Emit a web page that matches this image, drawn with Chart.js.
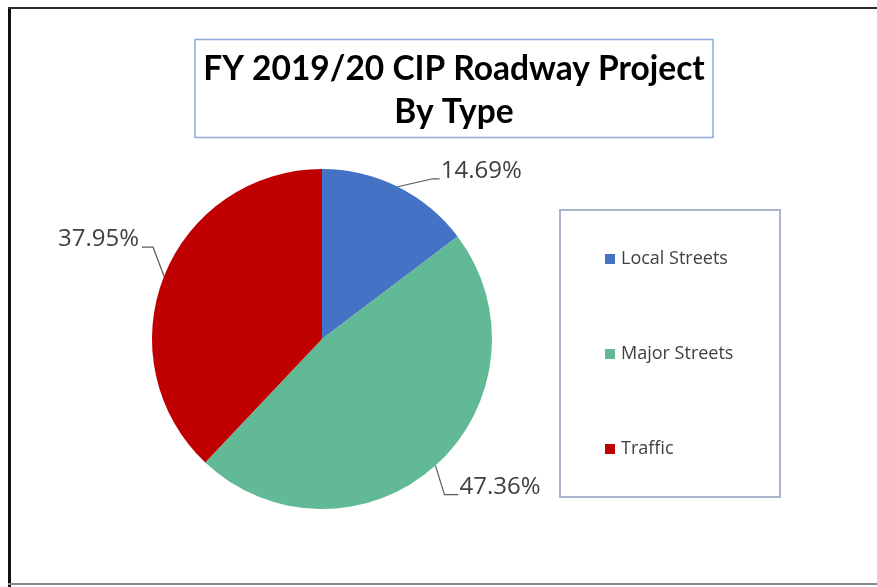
<!DOCTYPE html>
<html>
<head>
<meta charset="utf-8">
<title>FY 2019/20 CIP Roadway Project By Type</title>
<script src="https://cdn.jsdelivr.net/npm/chart.js@4/dist/chart.umd.min.js"></script>
<style>
  html, body { margin: 0; padding: 0; background: #fff; }
  canvas { display: block; }
</style>
</head>
<body>
<canvas id="pieChart" width="877" height="587"></canvas>
<script>
// chart data
const categories = ['Local Streets', 'Major Streets', 'Traffic'];
const shares = [14.69, 47.36, 37.95];
const sliceColors = ['#4472C4', '#62B996', '#C00000'];
const titleLines = ['FY 2019/20 CIP Roadway Project', 'By Type'];

// where each leader line bends, relative to the slice edge (dx, dy) and how far it runs flat
const leaderBends = [
    { dx: 35, dy: -8, run: 7 },
    { dx: 9, dy: 29, run: 14 },
    { dx: -11, dy: -29, run: -11 }
];

const LABEL_FONT = '24px "Open Sans", sans-serif';
const TEXT_COLOR = '#404040';

// draws the frame, title box, legend box and the percentage labels
const excelLook = {
    id: 'excelLook',
    beforeDraw(chart) {
        const ctx = chart.ctx;
        ctx.save();
        ctx.fillStyle = '#ffffff';
        ctx.fillRect(0, 0, chart.width, chart.height);
        ctx.restore();
    },
    afterDraw(chart) {
        const ctx = chart.ctx;
        ctx.save();

        // outer frame
        ctx.fillStyle = '#111111';
        ctx.fillRect(8, 7, 3, 580);
        ctx.fillStyle = '#2b2b2b';
        ctx.fillRect(8, 7, chart.width - 8, 2);
        ctx.fillStyle = '#8a8a8a';
        ctx.fillRect(8, 583, chart.width - 8, 2);

        // title box
        ctx.strokeStyle = '#8EA9DB';
        ctx.lineWidth = 1.5;
        ctx.strokeRect(195, 39.5, 518, 98);
        ctx.fillStyle = '#000000';
        ctx.font = 'bold 33.5px Lato, "Open Sans", sans-serif';
        ctx.textAlign = 'center';
        ctx.textBaseline = 'alphabetic';
        ctx.fillText(titleLines[0], 454, 80);
        ctx.fillText(titleLines[1], 454, 123);

        // legend box
        ctx.strokeStyle = '#A9B3C9';
        ctx.lineWidth = 2;
        ctx.strokeRect(560, 210, 220, 287);
        ctx.font = '18px "Open Sans", sans-serif';
        ctx.textAlign = 'left';
        ctx.textBaseline = 'middle';
        categories.forEach((name, i) => {
            const cy = 259 + i * 95;
            ctx.fillStyle = sliceColors[i];
            ctx.fillRect(605, cy - 5, 10, 10);
            ctx.fillStyle = TEXT_COLOR;
            ctx.fillText(name, 621, cy);
        });

        // percentage labels with leader lines
        const meta = chart.getDatasetMeta(0);
        ctx.font = LABEL_FONT;
        ctx.textBaseline = 'alphabetic';
        meta.data.forEach((arc, i) => {
            const p = arc.getProps(['x', 'y', 'startAngle', 'endAngle', 'outerRadius'], true);
            const mid = (p.startAngle + p.endAngle) / 2;
            const ex = p.x + Math.cos(mid) * p.outerRadius;
            const ey = p.y + Math.sin(mid) * p.outerRadius;
            const b = leaderBends[i];
            const bx = ex + b.dx;
            const by = ey + b.dy;
            const tx = bx + b.run;

            ctx.strokeStyle = '#595959';
            ctx.lineWidth = 1.2;
            ctx.beginPath();
            ctx.moveTo(ex, ey);
            ctx.lineTo(bx, by);
            ctx.lineTo(tx, by);
            ctx.stroke();

            const text = shares[i].toFixed(2) + '%';
            ctx.fillStyle = TEXT_COLOR;
            if (b.run < 0) {
                ctx.textAlign = 'right';
                ctx.fillText(text, tx - 3, by - 1);
            } else {
                ctx.textAlign = 'left';
                ctx.fillText(text, tx + 1, by - 1);
            }
        });

        ctx.restore();
    }
};

const chart = new Chart(document.getElementById('pieChart'), {
    type: 'pie',
    data: {
        labels: categories,
        datasets: [{
            data: shares,
            backgroundColor: sliceColors,
            borderWidth: 0
        }]
    },
    options: {
        responsive: false,
        animation: false,
        layout: {
            padding: { left: 152, top: 169, right: 385, bottom: 78 }
        },
        plugins: {
            legend: { display: false },
            title: { display: false },
            tooltip: { enabled: false }
        }
    },
    plugins: [excelLook]
});
</script>
</body>
</html>
